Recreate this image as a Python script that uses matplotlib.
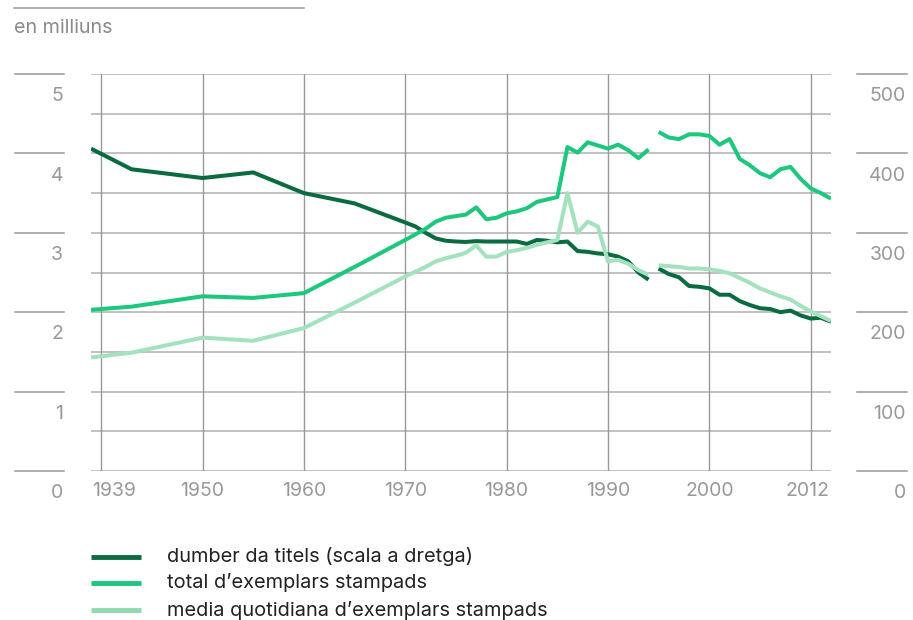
import matplotlib
matplotlib.use('Agg')
import matplotlib.pyplot as plt
import matplotlib.transforms as mtransforms
from matplotlib.lines import Line2D

plt.rcParams['font.family'] = ['Inter', 'DejaVu Sans']

# years before the break in the series (1994/1995)
years_old = [1939, 1943, 1950, 1955, 1960, 1965, 1970, 1971, 1972, 1973, 1974,
             1975, 1976, 1977, 1978, 1979, 1980, 1981, 1982, 1983, 1984, 1985,
             1986, 1987, 1988, 1989, 1990, 1991, 1992, 1993, 1994]
years_new = [1995, 1996, 1997, 1998, 1999, 2000, 2001, 2002, 2003, 2004, 2005,
             2006, 2007, 2008, 2009, 2010, 2011, 2012]

# number of titles (right scale)
titles_old = [406, 380, 369, 376, 350, 337, 313, 308, 300, 293, 290,
              289, 288.5, 289.5, 289, 289, 289, 289, 286, 291, 290, 288,
              289, 277, 276, 274, 273, 270, 264, 250, 241]
titles_new = [255, 248, 244, 233, 232, 230, 222, 222, 214, 209, 205,
              204, 200, 202, 196, 192, 193, 188]

# total printed copies (millions)
total_old = [2.03, 2.07, 2.20, 2.18, 2.24, 2.57, 2.91, 2.98, 3.05, 3.14, 3.19,
             3.21, 3.23, 3.32, 3.17, 3.19, 3.245, 3.27, 3.31, 3.39, 3.42, 3.45,
             4.08, 4.01, 4.14, 4.10, 4.06, 4.11, 4.04, 3.94, 4.05]
total_new = [4.27, 4.20, 4.18, 4.24, 4.24, 4.22, 4.11, 4.18, 3.93, 3.85, 3.75,
             3.70, 3.80, 3.83, 3.68, 3.56, 3.50, 3.43]

# daily average printed copies (millions)
daily_old = [1.43, 1.49, 1.68, 1.64, 1.80, 2.12, 2.45, 2.51, 2.57, 2.64, 2.68,
             2.71, 2.75, 2.84, 2.70, 2.70, 2.76, 2.78, 2.81, 2.85, 2.88, 2.91,
             3.50, 3.00, 3.14, 3.08, 2.64, 2.66, 2.61, 2.53, 2.47]
daily_new = [2.59, 2.58, 2.57, 2.55, 2.55, 2.54, 2.52, 2.49, 2.43, 2.37, 2.30,
             2.25, 2.20, 2.16, 2.08, 2.01, 1.95, 1.89]

labels = ['dumber da titels (scala a dretga)',
          'total d\u2019exemplars stampads',
          'media quotidiana d\u2019exemplars stampads']
col_dark = '#0b6b40'
col_mid = '#1dc77d'
col_light = '#a4e2bf'
col_legend_light = '#8ddbaf'
grey = '#999999'
grid_col = '#b0b0b0'

fig = plt.figure(figsize=(9.13, 6.2), dpi=100)
ax = fig.add_axes([91/913, 1-471/620, 740/913, 397/620])
ax2 = ax.twinx()

ax.set_xlim(1939, 2012)
ax.set_ylim(0, 5)
ax2.set_ylim(0, 500)

# grid
for y in [0, 0.5, 1, 1.5, 2, 2.5, 3, 3.5, 4, 4.5, 5]:
    ax.axhline(y, color=grid_col, lw=1.1, zorder=0)
for x in [1940, 1950, 1960, 1970, 1980, 1990, 2000, 2010]:
    ax.axvline(x, color=grey, lw=1.0, zorder=0)

lw = 2.9
ax2.plot(years_old, titles_old, color=col_dark, lw=lw, zorder=3, solid_capstyle='butt')
ax2.plot(years_new, titles_new, color=col_dark, lw=lw, zorder=3, solid_capstyle='butt')
ax2.plot(years_old, [v * 100 for v in total_old], color=col_mid, lw=lw, zorder=4, solid_capstyle='butt')
ax2.plot(years_new, [v * 100 for v in total_new], color=col_mid, lw=lw, zorder=4, solid_capstyle='butt')
ax2.plot(years_old, [v * 100 for v in daily_old], color=col_light, lw=lw, zorder=5, solid_capstyle='butt')
ax2.plot(years_new, [v * 100 for v in daily_new], color=col_light, lw=lw, zorder=5, solid_capstyle='butt')

for a in (ax, ax2):
    for s in a.spines.values():
        s.set_visible(False)
    a.set_xticks([])
    a.set_yticks([])

# outer tick lines and labels
trans = mtransforms.blended_transform_factory(fig.transFigure, ax.transData)
for v in [0, 1, 2, 3, 4, 5]:
    fig.add_artist(Line2D([15/913, 64/913], [v, v], transform=trans, color=grey, lw=1.1))
    fig.add_artist(Line2D([857/913, 907/913], [v, v], transform=trans, color=grey, lw=1.1))
    ax.text(63/913, v - 0.28, str(v), transform=trans, ha='right', va='center',
            fontsize=14, color=grey)
    ax.text(906/913, v - 0.28, str(v * 100), transform=trans, ha='right', va='center',
            fontsize=14, color=grey)

# x labels
xt = mtransforms.blended_transform_factory(ax.transData, fig.transFigure)
yx = 1 - 491/620
ax.text(1939.1, yx, '1939', transform=xt, ha='left', va='center', fontsize=14, color=grey)
for yr in [1950, 1960, 1970, 1980, 1990, 2000]:
    ax.text(yr, yx, str(yr), transform=xt, ha='center', va='center', fontsize=14, color=grey)
ax.text(2011.9, yx, '2012', transform=xt, ha='right', va='center', fontsize=14, color=grey)

# header
fig.add_artist(Line2D([14/913, 304/913], [1-8/620, 1-8/620], color=grey, lw=1.1))
fig.text(14/913, 1-28/620, 'en milliuns', ha='left', va='center', fontsize=14.2, color='#8a8a8a')

# legend
leg_cols = [col_dark, col_mid, col_legend_light]
leg_y = [557, 583, 610]
for c, yy, lab in zip(leg_cols, leg_y, labels):
    fig.add_artist(Line2D([91/913, 141/913], [1-yy/620, 1-yy/620], color=c, lw=3.5,
                          solid_capstyle='butt'))
    fig.text(167/913, 1-yy/620, lab, ha='left', va='center', fontsize=14.4, color='#222222')

fig.savefig('out.png', dpi=100)
